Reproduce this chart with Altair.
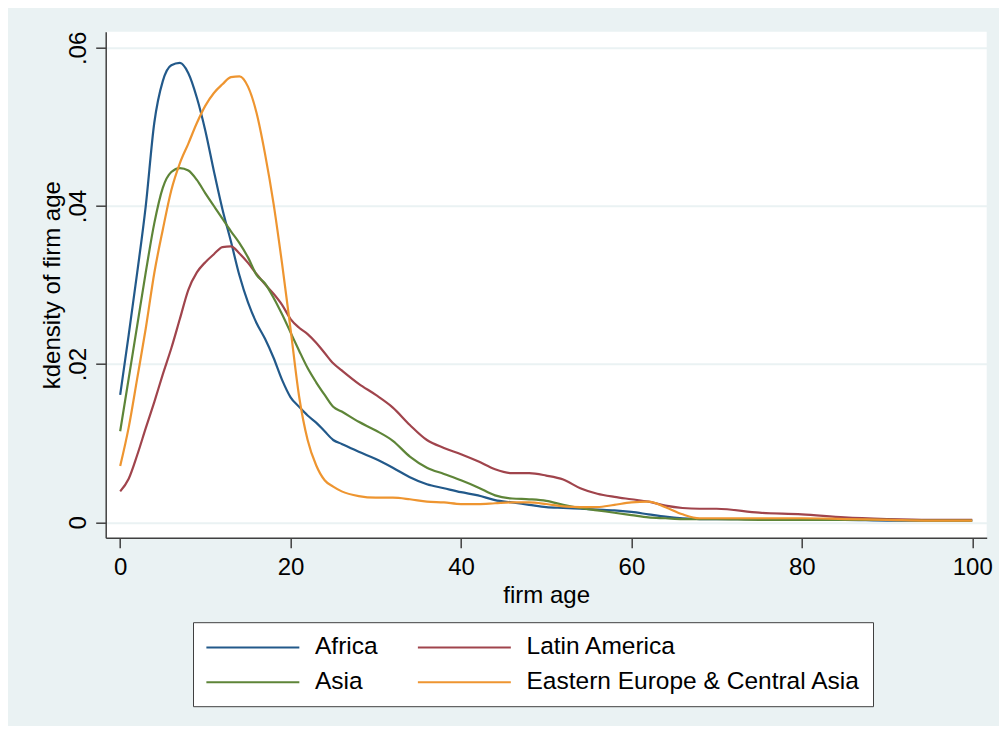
import altair as alt
import pandas as pd

ages = [0, 1, 2, 3, 4, 5, 6, 7, 8, 9, 10, 11, 12, 13, 14, 15, 16, 17, 18, 19,
        20, 21, 22, 23, 24, 25, 26, 28, 30, 32, 34, 36, 38, 40, 42, 44, 46, 48,
        50, 52, 54, 56, 58, 60, 62, 64, 66, 68, 70, 75, 80, 85, 90, 95, 100]

africa = [.0161, .0237, .0316, .0400, .0505, .0558, .0578, .0581, .0568, .0537,
          .0495, .0444, .0396, .0355, .0312, .0278, .0252, .0232, .0208, .0180,
          .0158, .0146, .0135, .0126, .0115, .0104, .0099, .0089, .0080, .0069,
          .0057, .0048, .0043, .0038, .0034, .0028, .0025, .0022, .0019, .0018,
          .0017, .0016, .0015, .0013, .0010, .0007, .0005, .0004, .0004, .0004,
          .0003, .0003, .0002, .0002, .0002]

latin_america = [.0039, .0055, .0085, .0119, .0152, .0187, .0220, .0257, .0294, .0316,
                 .0329, .0339, .0348, .0349, .0340, .0328, .0314, .0301, .0289, .0275,
                 .0257, .0246, .0238, .0227, .0214, .0201, .0192, .0175, .0161, .0145,
                 .0123, .0104, .0094, .0086, .0077, .0067, .0062, .0062, .0059, .0054,
                 .0043, .0036, .0032, .0029, .0026, .0021, .0018, .0017, .0017, .0012,
                 .0010, .0006, .0004, .0003, .0003]

asia = [.0115, .0182, .0249, .0316, .0378, .0423, .0443, .0448, .0445, .0433,
        .0416, .0400, .0384, .0368, .0353, .0335, .0313, .0302, .0284, .0263,
        .0240, .0217, .0195, .0177, .0161, .0146, .0140, .0127, .0116, .0103,
        .0083, .0069, .0061, .0053, .0044, .0034, .0030, .0029, .0027, .0022,
        .0018, .0015, .0012, .0009, .0006, .0005, .0004, .0004, .0004, .0003,
        .0003, .0003, .0003, .0002, .0002]

eastern_europe = [.0071, .0120, .0182, .0245, .0315, .0370, .0420, .0454, .0479, .0505,
                  .0527, .0543, .0554, .0563, .0564, .0551, .0518, .0466, .0403, .0327,
                  .0244, .0159, .0104, .0072, .0053, .0045, .0039, .0033, .0031, .0031,
                  .0029, .0026, .0025, .0023, .0023, .0024, .0025, .0025, .0023, .0020,
                  .0019, .0019, .0022, .0025, .0026, .0019, .0010, .0005, .0005, .0005,
                  .0005, .0004, .0003, .0002, .0002]

regions = ["Africa", "Latin America", "Asia", "Eastern Europe & Central Asia"]
series = [africa, latin_america, asia, eastern_europe]
colors = ["#22598A", "#A0444C", "#5E8538", "#EE9530"]

rows = []
for name, vals in zip(regions, series):
    for a, v in zip(ages, vals):
        rows.append({"region": name, "age": a, "density": v})
df = pd.DataFrame(rows)

FONT = "Liberation Sans"

chart = alt.Chart(df).mark_line(strokeWidth=2.2, interpolate="monotone").encode(
    x=alt.X("age:Q",
            scale=alt.Scale(domain=[-1.70, 101.7], nice=False, zero=False),
            axis=alt.Axis(values=[0, 20, 40, 60, 80, 100], title="firm age",
                          grid=False, labelPadding=8, titlePadding=4)),
    y=alt.Y("density:Q",
            scale=alt.Scale(domain=[-0.00196, 0.06205], nice=False, zero=False),
            axis=alt.Axis(values=[0, 0.02, 0.04, 0.06], title="kdensity of firm age",
                          grid=True, gridColor="#EAF2F3", gridWidth=2,
                          labelAngle=270, labelAlign="center", labelBaseline="alphabetic",
                          labelPadding=10,
                          labelExpr="datum.value == 0 ? '0' : '.0' + format(datum.value*100, 'd')",
                          titlePadding=2)),
    color=alt.Color("region:N",
                    scale=alt.Scale(domain=regions, range=colors),
                    legend=alt.Legend(
                        title=None, orient="none", legendX=87.3, legendY=590.5,
                        columns=2, columnPadding=35.5, rowPadding=10,
                        direction="horizontal",
                        strokeColor="#404040", fillColor="white", padding=12,
                        labelFontSize=24.5, labelFont=FONT, labelColor="black",
                        labelOffset=84, labelLimit=600,
                        symbolType="M-1,0H7", symbolSize=540, symbolStrokeWidth=2)),
    order=alt.Order("age:Q"),
).properties(
    width=881, height=506,
    autosize=alt.AutoSizeParams(type="none"),
    padding={"left": 97.7, "top": 23.7, "right": 12.3, "bottom": 188.3},
    background="#EAF2F3",
).configure_view(
    fill="white", stroke=None
).configure_axis(
    domainColor="#404040", domainWidth=1.5,
    tickColor="#404040", tickWidth=1.5, tickSize=10,
    labelFont=FONT, labelFontSize=24, labelColor="black",
    titleFont=FONT, titleFontSize=24, titleFontWeight="normal", titleColor="black",
)

chart.save("out.html", embed_options={"renderer": "svg", "actions": False})
